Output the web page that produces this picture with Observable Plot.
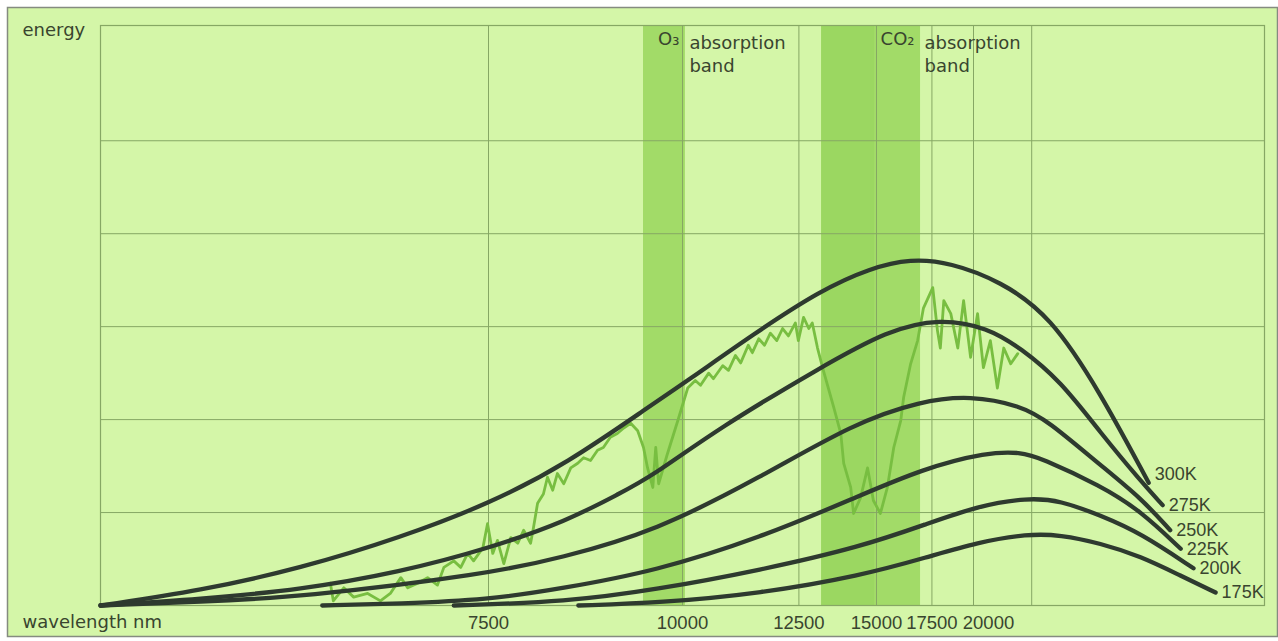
<!DOCTYPE html>
<html>
<head>
<meta charset="utf-8">
<script src="https://cdn.jsdelivr.net/npm/d3@7"></script>
<script src="https://cdn.jsdelivr.net/npm/@observablehq/plot@0.6"></script>
<style>
  body { margin: 0; background: #ffffff; }
  #chart svg { display: block; }
</style>
</head>
<body>
<div id="chart"></div>
<script>
// x positions are wavenumbers (cm^-1); the axis is labelled with wavelengths in nm
const tickWavelengths = [7500, 10000, 12500, 15000, 17500, 20000];
const gridWavelengths = [7500, 10000, 12500, 15000, 17500, 20000, 25000];
const energyGrid = [1, 2, 3, 4, 5];
const temperatures = ["300K", "275K", "250K", "225K", "200K", "175K"];

// [wavenumber, energy]
const curve300 = [[2000,0],[1828,0.16],[1656,0.40],[1485,0.73],[1330,1.10],[1198,1.53],[1055,2.15],[991,2.42],[878,2.92],[763,3.39],[677,3.63],[608,3.73],[540,3.69],[454,3.49],[368,3.12],[282,2.29],[199,1.32]];
const curve275 = [[2000,0],[1828,0.07],[1656,0.17],[1485,0.36],[1335,0.61],[1198,0.91],[1107,1.21],[1055,1.38],[935,1.92],[763,2.56],[648,2.96],[557,3.09],[476,2.99],[419,2.77],[351,2.42],[282,1.86],[213,1.34],[175,1.08]];
const curve250 = [[2000,0],[1828,0.04],[1656,0.09],[1335,0.34],[1210,0.51],[1046,0.80],[866,1.38],[706,1.96],[591,2.20],[505,2.26],[419,2.15],[373,1.99],[282,1.51],[213,1.16],[162,0.81]];
const curve225 = [[1619,0],[1485,0.02],[1335,0.06],[1210,0.18],[1046,0.37],[866,0.73],[703,1.16],[588,1.47],[476,1.65],[419,1.65],[385,1.59],[282,1.29],[213,1.02],[144,0.61]];
const curve200 = [[1393,0],[1198,0.04],[1046,0.17],[866,0.38],[694,0.63],[579,0.88],[493,1.07],[407,1.16],[351,1.13],[282,0.97],[213,0.78],[122,0.40]];
const curve175 = [[1179,0],[1038,0.03],[866,0.13],[694,0.32],[579,0.52],[493,0.68],[407,0.77],[351,0.76],[282,0.67],[213,0.53],[144,0.32],[84,0.14]];

// measured outgoing spectrum [wavenumber, energy]
const spectrum = [[1605,0.24],[1600,0.05],[1582,0.19],[1565,0.09],[1541,0.13],[1519,0.05],[1502,0.13],[1484,0.30],[1472,0.19],[1455,0.24],[1438,0.30],[1421,0.22],[1410,0.41],[1393,0.48],[1381,0.41],[1369,0.56],[1359,0.48],[1343,0.62],[1335,0.88],[1326,0.56],[1318,0.70],[1307,0.45],[1295,0.73],[1283,0.67],[1273,0.81],[1261,0.67],[1256,0.84],[1249,1.10],[1239,1.20],[1232,1.38],[1223,1.24],[1215,1.42],[1204,1.31],[1192,1.48],[1180,1.53],[1170,1.59],[1158,1.56],[1146,1.67],[1136,1.70],[1124,1.81],[1112,1.85],[1101,1.91],[1089,1.96],[1077,1.88],[1067,1.70],[1060,1.48],[1051,1.27],[1046,1.70],[1041,1.31],[1026,1.63],[1008,1.99],[991,2.34],[978,2.42],[969,2.37],[955,2.50],[947,2.44],[931,2.58],[921,2.53],[909,2.69],[900,2.61],[887,2.80],[880,2.72],[869,2.87],[859,2.80],[849,2.93],[838,2.85],[828,2.98],[818,2.90],[806,3.04],[801,2.85],[792,3.10],[783,2.98],[777,3.04],[768,2.77],[758,2.53],[740,2.13],[728,1.85],[723,1.53],[711,1.27],[706,0.99],[694,1.16],[682,1.48],[672,1.13],[660,0.99],[648,1.27],[637,1.70],[625,1.99],[620,2.24],[608,2.60],[596,2.85],[586,3.20],[570,3.42],[562,2.96],[557,2.77],[551,3.28],[539,3.14],[527,2.77],[517,3.28],[505,2.67],[493,3.14],[483,2.56],[471,2.85],[459,2.34],[448,2.77],[436,2.60],[424,2.71]];

// absorption bands (wavenumber ranges)
const bandNames = ["O₃", "CO₂"];
const bandFrom = [995, 591];
const bandTo = [1067, 761];
const co2CoreFrom = [670];
const co2CoreTo = [761];

const curveList = [curve300, curve275, curve250, curve225, curve200, curve175];
const curves = curveList.flatMap((c, i) => c.map(([wn, e]) => ({temp: temperatures[i], wn, e})));
const bands = bandNames.map((name, i) => ({name, from: bandFrom[i], to: bandTo[i]}));

const textColor = "#39452f";
const gridColor = "#86a764";
const words = "DejaVu Sans";
const digits = "Liberation Sans";
const labelStyle = {textAnchor: "start", fill: textColor, fontFamily: digits, fontSize: 18, letterSpacing: "-0.5px"};

const chart = Plot.plot({
  width: 1278,
  height: 641,
  marginLeft: 100,
  marginRight: 14,
  marginTop: 25,
  marginBottom: 36,
  x: {domain: [2000, 0], axis: null},
  y: {domain: [0, 6.24], axis: null},
  style: {background: "#ffffff", overflow: "visible"},
  marks: [
    Plot.frame({fill: "#d4f6a8", stroke: "#858b80", strokeWidth: 1.5, insetTop: -18, insetLeft: -93, insetRight: -13, insetBottom: -31}),
    Plot.rect(bands, {x1: "from", x2: "to", fill: "#a2db68"}),
    Plot.rect(co2CoreFrom.map((f, i) => ({from: f, to: co2CoreTo[i]})), {x1: "from", x2: "to", fill: "#96d45b", fillOpacity: 0.55}),
    Plot.ruleX(gridWavelengths, {x: d => 1e7 / d, stroke: gridColor, strokeWidth: 1}),
    Plot.ruleY(energyGrid, {stroke: gridColor, strokeWidth: 1}),
    Plot.frame({stroke: gridColor, strokeWidth: 1.2}),
    Plot.line(spectrum, {x: d => d[0], y: d => d[1], stroke: "#78be41", strokeWidth: 2.8, strokeLinejoin: "round"}),
    Plot.line(curves, {x: "wn", y: "e", z: "temp", stroke: "#2e3a2f", strokeWidth: 4.3, curve: "basis", strokeLinecap: "round"}),
    Plot.text(curves.filter(d => d.temp === "300K"), Plot.selectLast({x: "wn", y: "e", text: "temp", dx: 6, dy: -9, ...labelStyle})),
    Plot.text(curves.filter(d => d.temp !== "300K"), Plot.selectLast({x: "wn", y: "e", z: "temp", text: "temp", dx: 6, dy: 0, ...labelStyle})),
    Plot.text(tickWavelengths.filter(d => d !== 20000), {x: d => 1e7 / d, text: d => String(d), frameAnchor: "bottom", lineAnchor: "bottom", dy: 23.5, fill: textColor, fontFamily: digits, fontSize: 18.5, letterSpacing: "-0.5px"}),
    Plot.text(tickWavelengths.filter(d => d === 20000), {x: d => 1e7 / d, text: d => String(d), frameAnchor: "bottom", lineAnchor: "bottom", dy: 23.5, dx: 15, fill: textColor, fontFamily: digits, fontSize: 18.5, letterSpacing: "-0.5px"}),
    Plot.text(["energy"], {frameAnchor: "top-left", textAnchor: "start", lineAnchor: "bottom", dx: -78, dy: 10, fill: textColor, fontFamily: words, fontSize: 18}),
    Plot.text(["wavelength nm"], {frameAnchor: "bottom-left", textAnchor: "start", lineAnchor: "bottom", dx: -78, dy: 22.5, fill: textColor, fontFamily: words, fontSize: 18}),
    Plot.text(bands, {x: "from", text: "name", frameAnchor: "top", textAnchor: "end", lineAnchor: "top", dx: -6, dy: 7, fill: textColor, fontFamily: words, fontSize: 18}),
    Plot.text(bands, {x: "from", text: () => "absorption\nband", frameAnchor: "top", textAnchor: "start", lineAnchor: "top", lineHeight: 1.28, dx: 4, dy: 7, fill: textColor, fontFamily: words, fontSize: 18})
  ]
});
document.getElementById("chart").append(chart);
</script>
</body>
</html>
